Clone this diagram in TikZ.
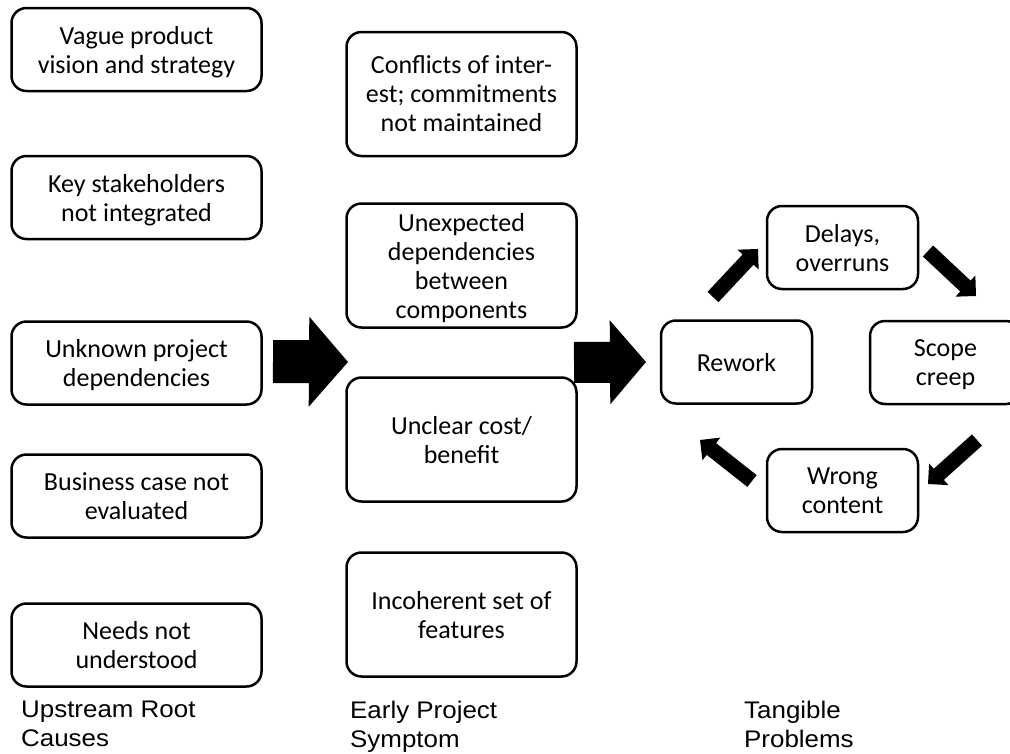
\documentclass[tikz,border=0pt]{standalone}
\usepackage{fontspec}
\setmainfont{Carlito}
\newfontfamily\captionfont{Liberation Sans}[FakeStretch=1.08]
\usetikzlibrary{calc}

% filled block arrow: #1 tail, #2 tip, #3 shaft half width, #4 head half width, #5 head length
\newcommand\blockarrow[5]{%
  \coordinate (neck) at ($(#2)!#5!(#1)$);
  \fill[arrowfill] ($(#1)!#3!90:(#2)$) -- ($(neck)!#3!90:(#2)$) -- ($(neck)!#4!90:(#2)$)
    -- (#2) -- ($(neck)!#4!-90:(#2)$) -- ($(neck)!#3!-90:(#2)$) -- ($(#1)!#3!-90:(#2)$) -- cycle;
}

\tikzset{
  box/.style={draw=black, line width=2.5pt, rounded corners=15pt, align=center,
    inner sep=0pt, text=black, font=\fontsize{26}{29}\selectfont, text depth=0pt},
  causebox/.style={box, minimum width=250pt, minimum height=83pt},
  symptombox/.style={box, minimum width=230pt, minimum height=124pt},
  cyclebox/.style={box, minimum width=151pt, minimum height=83pt},
  heading/.style={anchor=north west, inner sep=0pt, align=left,
    font=\captionfont\fontsize{24}{29}\selectfont},
  arrowfill/.style={fill=black},
}

\begin{document}
\begin{tikzpicture}[x=1pt, y=-1pt]
  \fill[white] (0,0) rectangle (1010,753);
  \useasboundingbox (0,0) rectangle (1010,753);
  \clip (0,0) rectangle (1010,753);

  % upstream root causes
  \node[causebox] (vision) at (136.5,49.5) {Vague product\\vision and strategy};
  \node[causebox] (stake)  at (136.5,197.5) {Key stakeholders\\not integrated};
  \node[causebox] (deps)   at (136.5,363) {Unknown project\\dependencies};
  \node[causebox] (bcase)  at (136.5,496) {Business case not\\evaluated};
  \node[causebox] (needs)  at (136.5,645) {Needs not\\understood};

  % early project symptoms
  \node[symptombox] (conflict) at (461.5,94) {Conflicts of inter-\\est; commitments\\not maintained};
  \node[symptombox] (unexp)    at (461.5,265.5) {Unexpected\\dependencies\\between\\components};
  \node[symptombox] (cost)     at (461.5,439.5) {Unclear cost/\\benefit};
  \node[symptombox] (incoh)    at (461.5,614.5) {Incoherent set of\\features};

  % tangible problems cycle
  \node[cyclebox] (delays) at (842.5,247.5) {Delays,\\overruns};
  \node[cyclebox] (rework) at (736.5,362) {Rework};
  \node[cyclebox] (scope)  at (945.5,362.5) {Scope\\creep};
  \node[cyclebox] (wrong)  at (842.5,490.5) {Wrong\\content};

  % column headings
  \node[heading] (h1) at (21,700.5) {Upstream Root\\Causes};
  \node[heading] (h2) at (350,700.5) {Early Project\\Symptom};
  \node[heading] (h3) at (744,700.5) {Tangible\\Problems};

  % big arrows between the columns
  \coordinate (a1t) at (273,361.5);  \coordinate (a1h) at (348,362);
  \coordinate (a2t) at (574,362.5);  \coordinate (a2h) at (646,362);
  \blockarrow{a1t}{a1h}{21.5pt}{45pt}{39pt}
  \blockarrow{a2t}{a2h}{20.5pt}{42pt}{36pt}

  % small arrows around the cycle
  \coordinate (c1t) at (713,297);  \coordinate (c1h) at (758,249);
  \coordinate (c2t) at (928,251);  \coordinate (c2h) at (976,296);
  \coordinate (c3t) at (977,440);  \coordinate (c3h) at (928,484);
  \coordinate (c4t) at (752,481);  \coordinate (c4h) at (700,440);
  \blockarrow{c1t}{c1h}{7.5pt}{14.5pt}{14.5pt}
  \blockarrow{c2t}{c2h}{7.5pt}{14.5pt}{14.5pt}
  \blockarrow{c3t}{c3h}{7.5pt}{14.5pt}{14.5pt}
  \blockarrow{c4t}{c4h}{7.5pt}{14.5pt}{14.5pt}
\end{tikzpicture}
\end{document}
